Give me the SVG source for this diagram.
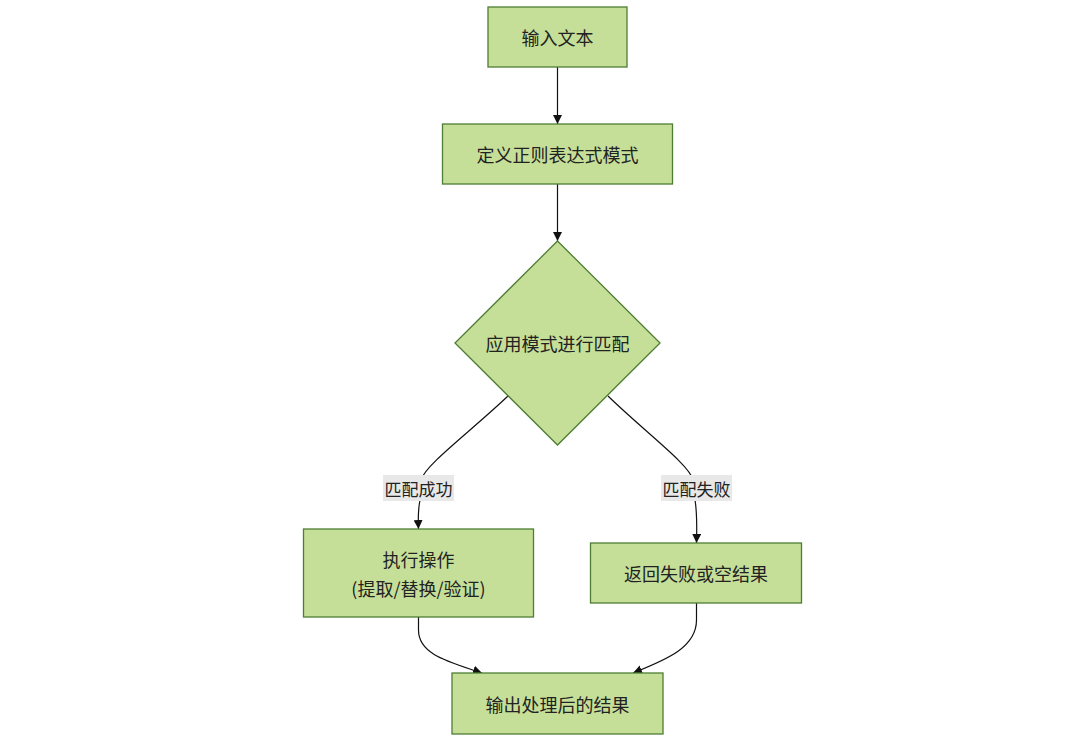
<svg xmlns="http://www.w3.org/2000/svg" width="1090" height="739" viewBox="0 0 1090 739">
<style>
.node{fill:#c6df98;stroke:#4e7d33;stroke-width:1.3}
.t{font-family:"Noto Sans CJK SC","Liberation Sans",sans-serif;font-size:18px;fill:#222;text-anchor:middle;dominant-baseline:central}
.lt{font-family:"Noto Sans CJK SC","Liberation Sans",sans-serif;font-size:17px;fill:#222;text-anchor:middle;dominant-baseline:central}
.lbg{fill:#e8e8e8}
.e{fill:none;stroke:#111;stroke-width:1.2}
</style>
<defs>
<marker id="ah" viewBox="0 0 10 10" refX="10" refY="5" markerWidth="9" markerHeight="9" markerUnits="userSpaceOnUse" orient="auto">
<path d="M0,0 L10,5 L0,10 z" fill="#111"/>
</marker>
</defs>
<rect width="1090" height="739" fill="#fff"/>
<g id="connectors">
<path class="e" d="M557.5,67 L557.5,124" marker-end="url(#ah)"/>
<path class="e" d="M557.5,184 L557.5,241" marker-end="url(#ah)"/>
<path class="e" d="M508,396 C470,432 425,465 421,480 M420,500 C418,510 418,518 418.5,529" marker-end="url(#ah)"/>
<path class="e" d="M608,396 C645,432 690,465 693,480 M695,500 C697,512 697,525 696.5,543" marker-end="url(#ah)"/>
<path class="e" d="M418.5,617 L418.5,630 C418.5,655 450,662 482,673" marker-end="url(#ah)"/>
<path class="e" d="M696.5,603 L696.5,620 C696.5,648 665,660 633,673" marker-end="url(#ah)"/>
</g>
<g id="label-success">
<rect class="lbg" x="383" y="475" width="71" height="26"/>
<text class="lt" x="418.5" y="488">匹配成功</text>
</g>
<g id="label-fail">
<rect class="lbg" x="661" y="475" width="71" height="26"/>
<text class="lt" x="696.5" y="488">匹配失败</text>
</g>
<g id="n1">
<rect class="node" x="488" y="7" width="139" height="60"/>
<text class="t" x="557.5" y="37">输入文本</text>
</g>
<g id="n2">
<rect class="node" x="442.5" y="124" width="230" height="60"/>
<text class="t" x="557.5" y="154">定义正则表达式模式</text>
</g>
<g id="n3">
<polygon class="node" points="557.5,241 660,343 557.5,445 455,343"/>
<text class="t" x="557.5" y="343">应用模式进行匹配</text>
</g>
<g id="n4">
<rect class="node" x="303.5" y="529" width="230" height="88"/>
<text class="t" x="418.5" y="559">执行操作</text>
<text class="t" x="418.5" y="588">(提取/替换/验证)</text>
</g>
<g id="n5">
<rect class="node" x="590.5" y="543" width="211" height="60"/>
<text class="t" x="696" y="573">返回失败或空结果</text>
</g>
<g id="n6">
<rect class="node" x="452" y="673" width="211" height="61"/>
<text class="t" x="557.5" y="703.5">输出处理后的结果</text>
</g>
</svg>
